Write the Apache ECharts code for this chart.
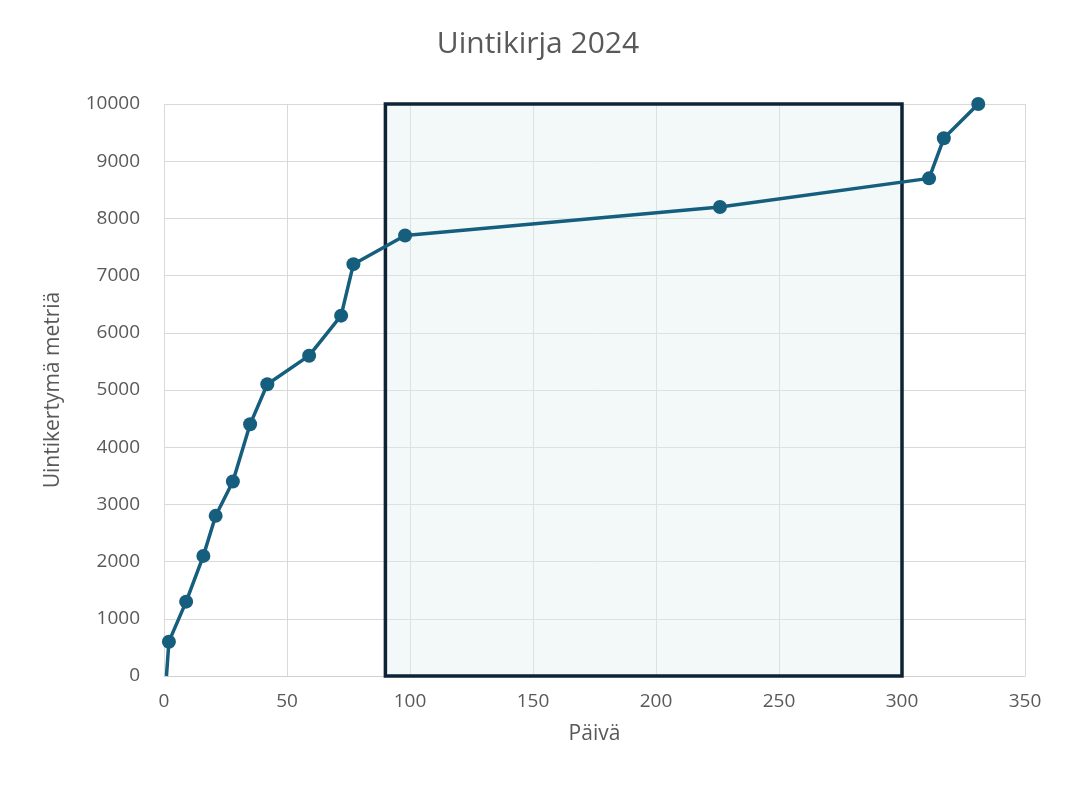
<!DOCTYPE html>
<html><head><meta charset="utf-8">
<script src="https://cdn.jsdelivr.net/npm/echarts@6/dist/echarts.min.js"></script>
<style>html,body{margin:0;padding:0;background:#fff}#c{width:1076px;height:800px}</style>
</head><body><div id="c"></div>
<script>
const days = [1, 2, 9, 16, 21, 28, 35, 42, 59, 72, 77, 98, 226, 311, 317, 331];
const meters = [0, 600, 1300, 2100, 2800, 3400, 4400, 5100, 5600, 6300, 7200, 7700, 8200, 8700, 9400, 10000];
const highlightRange = [90, 300];
const chart = echarts.init(document.getElementById('c'));
const data = days.map((d, i) => i === 0 ? {value: [d, meters[i]], symbol: 'none'} : [d, meters[i]]);
chart.setOption({
  title: {text: 'Uintikirja 2024', left: 'center', top: 24, textStyle: {fontFamily: 'Open Sans', fontWeight: 'normal', fontSize: 30, color: '#595959'}},
  grid: {left: 164, right: 51, top: 104, bottom: 124},
  xAxis: {type: 'value', min: 0, max: 350, interval: 50, name: 'Päivä', nameLocation: 'middle', nameGap: 48,
    nameTextStyle: {fontFamily: 'Open Sans', fontSize: 21, color: '#595959'},
    axisLine: {lineStyle: {color: '#d0d0d0'}}, axisTick: {show: false},
    axisLabel: {fontFamily: 'Open Sans', fontSize: 19, color: '#595959', margin: 16},
    splitLine: {lineStyle: {color: '#d9d9d9'}}},
  yAxis: {type: 'value', min: 0, max: 10000, interval: 1000, name: 'Uintikertymä metriä', nameLocation: 'middle', nameGap: 100,
    nameTextStyle: {fontFamily: 'Open Sans', fontSize: 21, color: '#595959'},
    axisLine: {show: false}, axisTick: {show: false},
    axisLabel: {fontFamily: 'Open Sans', fontSize: 19, color: '#595959', margin: 24, formatter: v => String(v)},
    splitLine: {lineStyle: {color: '#d9d9d9'}}},
  series: [{type: 'line', data: data, symbol: 'circle', symbolSize: 14, showSymbol: true,
    lineStyle: {color: '#165e7d', width: 3.5}, itemStyle: {color: '#165e7d'},
    markArea: {silent: true, itemStyle: {color: 'rgba(225,238,241,0.4)', borderColor: '#0e2436', borderWidth: 3.5},
      data: [[{coord: [highlightRange[0], 0]}, {coord: [highlightRange[1], 10050]}]]}}]
});
</script></body></html>
